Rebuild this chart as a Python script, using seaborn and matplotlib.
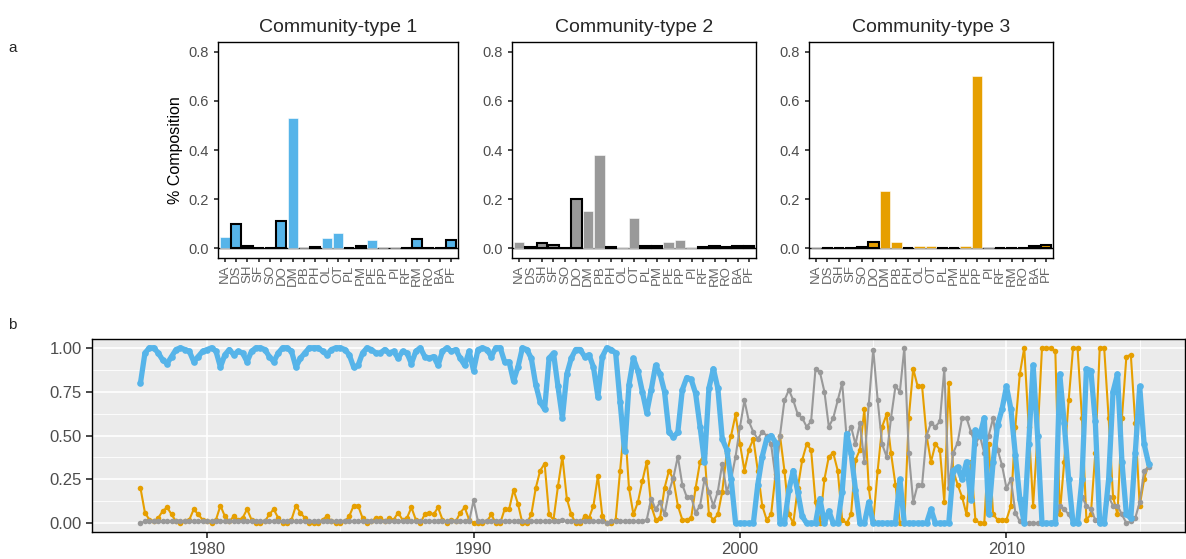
import numpy as np
import pandas as pd
import matplotlib
matplotlib.use("Agg")
import matplotlib.pyplot as plt
import seaborn as sns

sns.set_theme(style="white")
plt.rcParams["font.family"] = ["Liberation Sans", "DejaVu Sans"]

# ---------------- panel a data ----------------
species = ["NA", "DS", "SH", "SF", "SO", "DO", "DM", "PB", "PH", "OL", "OT",
           "PL", "PM", "PE", "PP", "PI", "RF", "RM", "RO", "BA", "PF"]
outlined = [0, 1, 1, 1, 1, 1, 0, 0, 1, 0, 0, 1, 1, 0, 0, 0, 1, 1, 1, 1, 1]
ct1 = [0.047, 0.10, 0.007, 0.002, 0.002, 0.11, 0.53, 0.0, 0.003, 0.042, 0.06,
       0.002, 0.01, 0.033, 0.0, 0.0, 0.002, 0.037, 0.002, 0.002, 0.033]
ct2 = [0.025, 0.003, 0.02, 0.015, 0.002, 0.20, 0.15, 0.38, 0.003, 0.003, 0.125,
       0.007, 0.01, 0.025, 0.035, 0.005, 0.003, 0.01, 0.003, 0.01, 0.01]
ct3 = [0.002, 0.002, 0.002, 0.002, 0.003, 0.025, 0.235, 0.025, 0.002, 0.007, 0.01,
       0.002, 0.002, 0.007, 0.70, 0.0, 0.002, 0.002, 0.002, 0.007, 0.012]
titles = ["Community-type 1", "Community-type 2", "Community-type 3"]
type_colors = ["#56B4E9", "#999999", "#E69F00"]
y_ticks_a = [0.0, 0.2, 0.4, 0.6, 0.8]

# ---------------- panel b data (samples every 2 months from 1977.5) ----------------
start_year = 1977.5
samples_per_year = 6
orange_vals = [
    0.20, 0.06, 0.02,
    0.01, 0.03, 0.07, 0.09, 0.05, 0.01,   # 1978
    0.00, 0.01, 0.02, 0.08, 0.05, 0.02,   # 1979
    0.01, 0.00, 0.02, 0.10, 0.04, 0.01,   # 1980
    0.04, 0.02, 0.03, 0.08, 0.02, 0.00,   # 1981
    0.00, 0.01, 0.05, 0.08, 0.03, 0.00,   # 1982
    0.00, 0.02, 0.10, 0.06, 0.03, 0.00,   # 1983
    0.00, 0.00, 0.02, 0.04, 0.01, 0.00,   # 1984
    0.00, 0.01, 0.04, 0.10, 0.10, 0.03,   # 1985
    0.00, 0.01, 0.03, 0.03, 0.01, 0.03,   # 1986
    0.02, 0.06, 0.02, 0.03, 0.09, 0.02,   # 1987
    0.00, 0.05, 0.06, 0.05, 0.09, 0.02,   # 1988
    0.00, 0.02, 0.01, 0.06, 0.09, 0.02,   # 1989
    0.00, 0.00, 0.00, 0.01, 0.05, 0.00,   # 1990
    0.00, 0.08, 0.08, 0.19, 0.11, 0.00,   # 1991
    0.00, 0.05, 0.20, 0.30, 0.34, 0.05,   # 1992
    0.02, 0.21, 0.38, 0.14, 0.05, 0.00,   # 1993
    0.00, 0.04, 0.03, 0.10, 0.27, 0.04,   # 1994
    0.00, 0.00, 0.02, 0.30, 0.58, 0.20,   # 1995
    0.05, 0.12, 0.24, 0.35, 0.10, 0.02,   # 1996
    0.03, 0.20, 0.30, 0.25, 0.10, 0.02,   # 1997
    0.02, 0.03, 0.20, 0.35, 0.40, 0.05,   # 1998
    0.02, 0.05, 0.18, 0.40, 0.50, 0.62,   # 1999
    0.45, 0.30, 0.42, 0.48, 0.30, 0.10,   # 2000
    0.02, 0.05, 0.28, 0.50, 0.30, 0.05,   # 2001
    0.00, 0.20, 0.36, 0.45, 0.42, 0.12,   # 2002
    0.00, 0.25, 0.38, 0.40, 0.30, 0.02,   # 2003
    0.00, 0.05, 0.36, 0.42, 0.65, 0.20,   # 2004
    0.01, 0.30, 0.55, 0.62, 0.40, 0.22,   # 2005
    0.00, 0.00, 0.60, 0.88, 0.78, 0.78,   # 2006
    0.50, 0.35, 0.45, 0.42, 0.12, 0.80,   # 2007
    0.30, 0.22, 0.15, 0.05, 0.35, 0.02,   # 2008
    0.00, 0.00, 0.45, 0.05, 0.02, 0.02,   # 2009
    0.02, 0.10, 0.55, 0.85, 1.00, 0.55,   # 2010
    0.10, 0.50, 1.00, 1.00, 1.00, 0.98,   # 2011
    0.05, 0.35, 0.70, 1.00, 1.00, 0.60,   # 2012
    0.02, 0.05, 0.40, 1.00, 1.00, 0.60,   # 2013
    0.15, 0.05, 0.60, 0.95, 0.96, 0.57,   # 2014
    0.10, 0.25, 0.34,                     # 2015
]
grey_vals = [
    0.00, 0.01, 0.01,
    0.01, 0.01, 0.01, 0.01, 0.01, 0.01,   # 1978
    0.01, 0.01, 0.01, 0.01, 0.01, 0.01,   # 1979
    0.01, 0.01, 0.01, 0.01, 0.01, 0.01,   # 1980
    0.01, 0.01, 0.01, 0.01, 0.01, 0.01,   # 1981
    0.01, 0.01, 0.01, 0.01, 0.01, 0.01,   # 1982
    0.01, 0.01, 0.01, 0.01, 0.01, 0.01,   # 1983
    0.01, 0.01, 0.01, 0.01, 0.01, 0.01,   # 1984
    0.01, 0.01, 0.01, 0.01, 0.01, 0.01,   # 1985
    0.01, 0.01, 0.01, 0.01, 0.01, 0.01,   # 1986
    0.01, 0.01, 0.01, 0.01, 0.01, 0.01,   # 1987
    0.01, 0.01, 0.01, 0.01, 0.01, 0.01,   # 1988
    0.01, 0.01, 0.01, 0.01, 0.01, 0.01,   # 1989
    0.13, 0.01, 0.01, 0.01, 0.01, 0.01,   # 1990
    0.01, 0.01, 0.01, 0.01, 0.01, 0.01,   # 1991
    0.01, 0.01, 0.01, 0.01, 0.01, 0.01,   # 1992
    0.01, 0.01, 0.02, 0.01, 0.01, 0.01,   # 1993
    0.01, 0.01, 0.01, 0.01, 0.01, 0.01,   # 1994
    0.00, 0.01, 0.01, 0.01, 0.01, 0.01,   # 1995
    0.01, 0.01, 0.01, 0.02, 0.14, 0.08,   # 1996
    0.12, 0.05, 0.18, 0.26, 0.38, 0.22,   # 1997
    0.15, 0.15, 0.06, 0.10, 0.25, 0.18,   # 1998
    0.10, 0.18, 0.34, 0.18, 0.25, 0.38,   # 1999
    0.55, 0.70, 0.58, 0.52, 0.48, 0.52,   # 2000
    0.50, 0.45, 0.26, 0.50, 0.70, 0.76,   # 2001
    0.70, 0.62, 0.60, 0.55, 0.58, 0.88,   # 2002
    0.86, 0.75, 0.55, 0.60, 0.70, 0.80,   # 2003
    0.49, 0.55, 0.45, 0.57, 0.35, 0.68,   # 2004
    0.99, 0.70, 0.45, 0.38, 0.60, 0.78,   # 2005
    0.75, 1.00, 0.40, 0.12, 0.22, 0.22,   # 2006
    0.50, 0.57, 0.55, 0.58, 0.88, 0.20,   # 2007
    0.40, 0.46, 0.60, 0.60, 0.52, 0.45,   # 2008
    0.50, 0.40, 0.50, 0.60, 0.42, 0.33,   # 2009
    0.20, 0.25, 0.06, 0.01, 0.00, 0.00,   # 2010
    0.00, 0.00, 0.00, 0.00, 0.00, 0.02,   # 2011
    0.10, 0.08, 0.05, 0.00, 0.00, 0.15,   # 2012
    0.10, 0.08, 0.02, 0.00, 0.00, 0.15,   # 2013
    0.10, 0.10, 0.05, 0.00, 0.01, 0.03,   # 2014
    0.12, 0.30, 0.32,                     # 2015
]
blue_vals = [
    0.80, 0.97, 1.00,
    1.00, 0.97, 0.93, 0.91, 0.95, 0.99,   # 1978
    1.00, 0.99, 0.98, 0.92, 0.95, 0.98,   # 1979
    0.99, 1.00, 0.98, 0.89, 0.96, 0.99,   # 1980
    0.96, 0.98, 0.97, 0.92, 0.98, 1.00,   # 1981
    1.00, 0.99, 0.95, 0.92, 0.97, 1.00,   # 1982
    1.00, 0.98, 0.89, 0.94, 0.97, 1.00,   # 1983
    1.00, 1.00, 0.98, 0.96, 0.99, 1.00,   # 1984
    1.00, 0.99, 0.96, 0.89, 0.90, 0.97,   # 1985
    1.00, 0.99, 0.97, 0.97, 0.99, 0.97,   # 1986
    0.98, 0.94, 0.98, 0.97, 0.91, 0.98,   # 1987
    1.00, 0.95, 0.94, 0.95, 0.90, 0.98,   # 1988
    1.00, 0.98, 0.99, 0.94, 0.90, 0.98,   # 1989
    0.87, 0.99, 1.00, 0.99, 0.95, 1.00,   # 1990
    1.00, 0.92, 0.92, 0.81, 0.89, 1.00,   # 1991
    0.99, 0.94, 0.79, 0.69, 0.65, 0.94,   # 1992
    0.97, 0.78, 0.60, 0.85, 0.94, 0.99,   # 1993
    0.99, 0.95, 0.96, 0.89, 0.72, 0.95,   # 1994
    1.00, 0.99, 0.97, 0.69, 0.41, 0.79,   # 1995
    0.94, 0.87, 0.75, 0.63, 0.76, 0.90,   # 1996
    0.85, 0.75, 0.52, 0.49, 0.52, 0.76,   # 1997
    0.83, 0.82, 0.74, 0.55, 0.35, 0.77,   # 1998
    0.88, 0.77, 0.48, 0.42, 0.25, 0.00,   # 1999
    0.00, 0.00, 0.00, 0.00, 0.22, 0.38,   # 2000
    0.48, 0.50, 0.46, 0.00, 0.00, 0.19,   # 2001
    0.30, 0.18, 0.04, 0.00, 0.00, 0.00,   # 2002
    0.14, 0.00, 0.07, 0.00, 0.00, 0.18,   # 2003
    0.51, 0.40, 0.19, 0.00, 0.00, 0.12,   # 2004
    0.00, 0.00, 0.00, 0.00, 0.00, 0.00,   # 2005
    0.25, 0.00, 0.00, 0.00, 0.00, 0.00,   # 2006
    0.00, 0.08, 0.00, 0.00, 0.00, 0.00,   # 2007
    0.30, 0.32, 0.25, 0.35, 0.13, 0.53,   # 2008
    0.50, 0.60, 0.05, 0.35, 0.56, 0.65,   # 2009
    0.78, 0.65, 0.39, 0.14, 0.00, 0.45,   # 2010
    0.90, 0.50, 0.00, 0.00, 0.00, 0.00,   # 2011
    0.85, 0.57, 0.25, 0.00, 0.00, 0.25,   # 2012
    0.88, 0.87, 0.58, 0.00, 0.00, 0.25,   # 2013
    0.75, 0.85, 0.35, 0.05, 0.03, 0.40,   # 2014
    0.78, 0.45, 0.34,                     # 2015
]
x_ticks_b = [1980, 1990, 2000, 2010]
y_ticks_b = [0.00, 0.25, 0.50, 0.75, 1.00]

# ---------------- figure ----------------
fig = plt.figure(figsize=(11.86, 5.59), dpi=100)
W, H = 1186.0, 559.0
TICK_GREY = "#4D4D4D"

panel_lefts = [218, 512, 809]
panel_widths = [240, 244, 244]
for k, (vals, col, title) in enumerate(zip([ct1, ct2, ct3], type_colors, titles)):
    ax = fig.add_axes([panel_lefts[k] / W, 1 - 258 / H, panel_widths[k] / W, 216 / H])
    df = pd.DataFrame({"species": species, "value": vals})
    sns.barplot(data=df, x="species", y="value", color=col, saturation=1,
                width=0.9, order=species, ax=ax)
    for patch, o in zip(ax.patches, outlined):
        if o:
            patch.set_edgecolor("black")
            patch.set_linewidth(1.5)
        else:
            patch.set_edgecolor("white")
            patch.set_linewidth(0.4)
    ax.axhline(0, color="black", lw=1.0, zorder=0.5)
    ax.set_yticks(y_ticks_a)
    ax.set_yticklabels([f"{v:.1f}" for v in y_ticks_a])
    ax.set_xlim(-0.6, len(species) - 0.4)
    ax.set_ylim(-0.04, 0.84)
    ax.set_title(title, fontsize=14, pad=7)
    ax.set_xlabel("")
    ax.set_ylabel("% Composition" if k == 0 else "", fontsize=11.5, color="black")
    ax.tick_params(axis="x", labelrotation=90, labelsize=9.5, labelcolor="#666666",
                   length=3, color="#333333", pad=2, bottom=True)
    ax.tick_params(axis="y", labelsize=10.5, labelcolor=TICK_GREY, length=3,
                   color="#333333", left=True)
    for s in ax.spines.values():
        s.set_color("black")
        s.set_linewidth(1.0)

# panel b
axb = fig.add_axes([92 / W, 1 - 532 / H, 1093 / W, 193 / H])
n = len(blue_vals)
years = start_year + np.arange(n) / samples_per_year
ts = pd.DataFrame({
    "year": np.concatenate([years, years, years]),
    "value": orange_vals + grey_vals + blue_vals,
    "type": ["3"] * n + ["2"] * n + ["1"] * n,
})
styles = {"3": ("#E69F00", 1.5, 4.0), "2": ("#999999", 1.5, 4.0), "1": ("#56B4E9", 3.8, 4.8)}
for t in ["3", "2", "1"]:
    c, lw, ms = styles[t]
    sns.lineplot(data=ts[ts["type"] == t], x="year", y="value", color=c, lw=lw,
                 marker="o", markersize=ms, markeredgewidth=0, estimator=None,
                 errorbar=None, ax=axb)
axb.set_facecolor("#EBEBEB")
axb.set_xticks(x_ticks_b)
axb.set_yticks(y_ticks_b)
axb.set_yticklabels([f"{v:.2f}" for v in y_ticks_b])
axb.set_xticks([1985, 1995, 2005, 2015], minor=True)
axb.set_yticks([0.125, 0.375, 0.625, 0.875], minor=True)
axb.set_xlim(1975.68, 2016.7)
axb.set_ylim(-0.05, 1.05)
axb.grid(True, which="major", color="white", lw=1.2)
axb.grid(True, which="minor", color="white", lw=0.6)
axb.set_axisbelow(True)
axb.set_xlabel("")
axb.set_ylabel("")
axb.tick_params(axis="both", which="major", labelsize=12, labelcolor=TICK_GREY,
                length=4, color="#333333", left=True, bottom=True)
axb.tick_params(axis="both", which="minor", length=0)
for s in axb.spines.values():
    s.set_color("black")
    s.set_linewidth(1.0)

fig.text(8 / W, 1 - 48 / H, "a", fontsize=11, va="center", ha="left")
fig.text(8 / W, 1 - 325 / H, "b", fontsize=11, va="center", ha="left")

fig.savefig("out.png", dpi=100)
